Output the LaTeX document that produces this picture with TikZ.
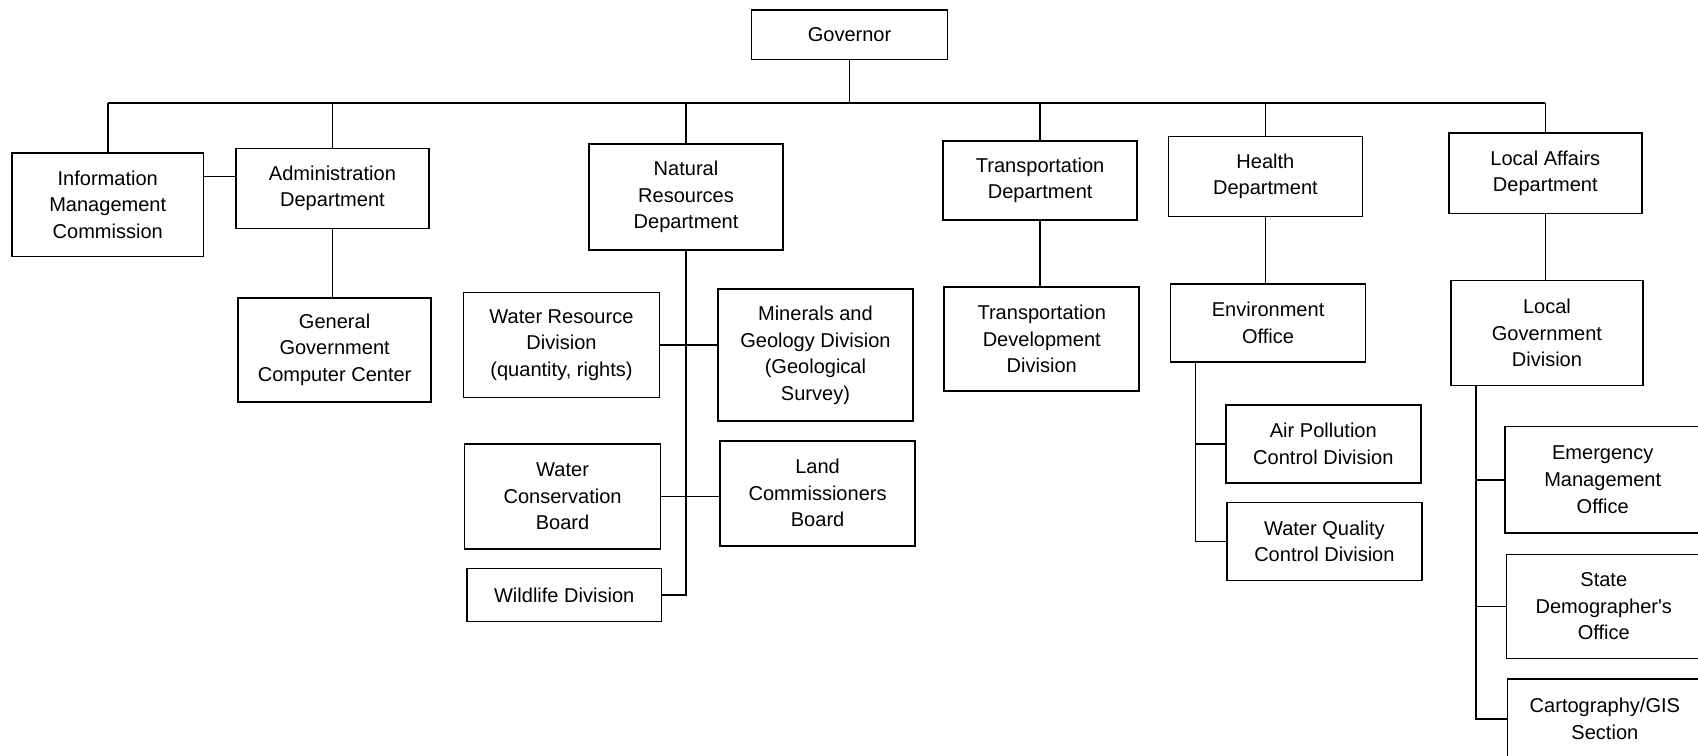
\documentclass[tikz,border=0pt]{standalone}
\usepackage{fontspec}
\setmainfont{Liberation Sans}
\begin{document}
\begin{tikzpicture}[x=1pt,y=-1pt,
  box/.style={draw,line width=1.5pt,inner sep=0pt,align=center,
    font=\fontsize{18.5}{24.5}\selectfont},
  link/.style={line width=1.5pt}]
\clip (0,0) rectangle (1568,698);
% top level
\node[box,minimum width=181,minimum height=46] (gov) at (784.5,32) {Governor};
% departments
\node[box,minimum width=177,minimum height=96] (info) at (99.5,189) {Information\\Management\\Commission};
\node[box,minimum width=178,minimum height=74] (admin) at (307,174) {Administration\\Department};
\node[box,minimum width=179,minimum height=98] (natres) at (633.5,182) {Natural\\Resources\\Department};
\node[box,minimum width=179,minimum height=73] (transp) at (960.5,166.5) {Transportation\\Department};
\node[box,minimum width=179,minimum height=74] (health) at (1168.5,163) {Health\\Department};
\node[box,minimum width=178,minimum height=74] (local) at (1427,160) {Local Affairs\\Department};
% administration
\node[box,minimum width=178,minimum height=96] (ggcc) at (309,323) {General\\Government\\Computer Center};
% natural resources
\node[box,minimum width=181,minimum height=97] (wrd) at (518.5,318.5) {Water Resource\\Division\\(quantity, rights)};
\node[box,minimum width=180,minimum height=122] (mgd) at (753,328) {Minerals and\\Geology Division\\(Geological\\Survey)};
\node[box,minimum width=181,minimum height=97] (wcb) at (519.5,458.5) {Water\\Conservation\\Board};
\node[box,minimum width=180,minimum height=97] (lcb) at (755,455.5) {Land\\Commissioners\\Board};
\node[box,minimum width=180,minimum height=49] (wild) at (521,549.5) {Wildlife Division};
% transportation
\node[box,minimum width=180,minimum height=96] (tdd) at (962,313) {Transportation\\Development\\Division};
% health
\node[box,minimum width=180,minimum height=72] (env) at (1171,298) {Environment\\Office};
\node[box,minimum width=180,minimum height=72] (apc) at (1222,410) {Air Pollution\\Control Division};
\node[box,minimum width=180,minimum height=72] (wqc) at (1223,500) {Water Quality\\Control Division};
% local affairs
\node[box,minimum width=177,minimum height=97] (lgd) at (1428.5,307.5) {Local\\Government\\Division};
\node[box,minimum width=180,minimum height=98] (emo) at (1480,443) {Emergency\\Management\\Office};
\node[box,minimum width=180,minimum height=96] (sdo) at (1481,560) {State\\Demographer\textquotesingle s\\Office};
\node[box,minimum width=180,minimum height=74] (cgs) at (1482,664) {Cartography/GIS\\Section};
% helper coordinates for buses and spines
\coordinate (bus) at (0,95);
\coordinate (ia) at (0,163);
\coordinate (envsp) at (1104,0);
\coordinate (lasp) at (1363,0);
% governor bus
\draw[link] (gov.south) -- (gov.south |- bus);
\draw[link] (info.north |- bus) -- (local.north |- bus);
\foreach \n in {info,admin,natres,transp,health,local}
  \draw[link] (\n.north) -- (\n.north |- bus);
\draw[link] (info.east |- ia) -- (admin.west |- ia);
% administration
\draw[link] (admin.south) -- (admin.south |- ggcc.north);
% natural resources
\draw[link] (natres.south) |- (wild.east);
\draw[link] (wrd.east) -- (wrd.east -| mgd.west);
\draw[link] (wcb.east) -- (wcb.east -| lcb.west);
% transportation
\draw[link] (transp.south) -- (transp.south |- tdd.north);
% health
\draw[link] (health.south) -- (health.south |- env.north);
\draw[link] (envsp |- env.south) |- (wqc.west);
\draw[link] (apc.west) -- (apc.west -| envsp);
% local affairs
\draw[link] (local.south) -- (local.south |- lgd.north);
\draw[link] (lasp |- lgd.south) |- (cgs.west);
\draw[link] (emo.west) -- (emo.west -| lasp);
\draw[link] (sdo.west) -- (sdo.west -| lasp);
\end{tikzpicture}
\end{document}
